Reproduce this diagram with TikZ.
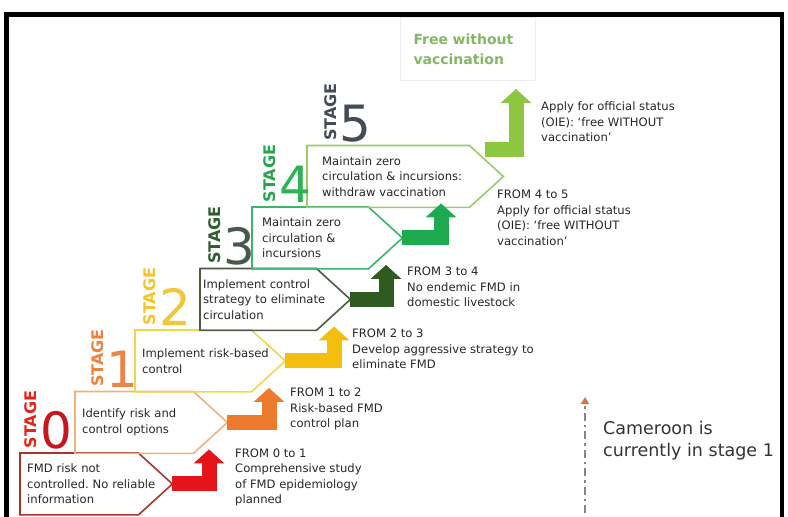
\documentclass[tikz,border=0pt]{standalone}
\usepackage{fontspec}
\setmainfont{DejaVu Sans}
\usetikzlibrary{arrows.meta,calc}
\frenchspacing

\definecolor{edge0}{HTML}{A8342C}
\definecolor{edge1}{HTML}{F2B27A}
\definecolor{edge2}{HTML}{F2D64A}
\definecolor{edge3}{HTML}{4A5A46}
\definecolor{edge4}{HTML}{3CB46C}
\definecolor{edge5}{HTML}{9CCB6A}
\definecolor{move0}{HTML}{E3151B}
\definecolor{move1}{HTML}{EE7B2D}
\definecolor{move2}{HTML}{F4BE0E}
\definecolor{move3}{HTML}{2F5A20}
\definecolor{move4}{HTML}{1EAA4E}
\definecolor{move5}{HTML}{8DC641}
\definecolor{tag0}{HTML}{E2261B}
\definecolor{tag1}{HTML}{EE8238}
\definecolor{tag2}{HTML}{F5C428}
\definecolor{tag3}{HTML}{2F5E2D}
\definecolor{tag4}{HTML}{25A64C}
\definecolor{tag5}{HTML}{434C56}
\definecolor{digit0}{HTML}{C8161E}
\definecolor{digit1}{HTML}{EB8447}
\definecolor{digit2}{HTML}{F3C63A}
\definecolor{digit3}{HTML}{46594A}
\definecolor{digit4}{HTML}{2FB253}
\definecolor{digit5}{HTML}{434C56}
\definecolor{freegreen}{HTML}{86B665}
\definecolor{markgray}{HTML}{8A8480}
\definecolor{markorange}{HTML}{C87840}

\tikzset{
	stagebox/.style={rectangle,inner sep=0pt,minimum height=61.5pt,anchor=north west,align=left,text=black!85,font=\fontsize{11.6}{15.5}\selectfont},
	stageedge/.style={line width=1.6pt,line join=miter},
	flow/.style={line width=15pt,-{Triangle[length=14pt,width=30pt]}},
	stagetag/.style={rotate=90,anchor=west,inner sep=0pt,font=\bfseries\fontsize{16}{16}\selectfont},
	stagenum/.style={anchor=base,inner sep=0pt,font=\fontsize{50}{50}\selectfont},
	note/.style={anchor=west,inner sep=0pt,align=left,text=black!85,font=\fontsize{11.6}{15.5}\selectfont},
	freebox/.style={draw=gray!25,densely dotted,line width=1pt,anchor=north west,minimum width=135pt,minimum height=63pt,text width=109pt,align=left,inner sep=0pt,text=freegreen,font=\bfseries\fontsize{14}{20}\selectfont},
	stagemark/.style={line width=2.5pt,markgray,dash pattern=on 8pt off 4pt on 2.5pt off 4pt,-{Triangle[length=7pt,width=8pt,color=markorange]}},
	frame/.style={line width=4.5pt,black}
}

\begin{document}
\begin{tikzpicture}[x=1pt,y=-1pt]
	\useasboundingbox (0,0) rectangle (788,517);
	\draw [frame] (6.5,521) |- (782,14.5) -- (782,521);

	\foreach \n/\bx/\by/\bw/\tw/\txt in {
		0/20/453/152/138/{FMD risk not\\controlled. No reliable\\information},
		1/75/391.5/152/138/{Identify risk and\\control options},
		2/135/330/150/136/{Implement risk-based\\control},
		3/200/268.5/150/144/{Implement control\\strategy to eliminate\\circulation},
		4/252/207/150/130/{Maintain zero\\circulation \&\\incursions},
		5/307/145.5/196/166/{Maintain zero\\circulation \& incursions:\\withdraw vaccination}}
	{
		\node [stagebox,minimum width=\bw pt,text width=\tw pt] (b\n) at (\bx,\by) {\txt};
		\draw [stageedge,edge\n] (b\n.north west) -- ($(b\n.north east)+(-34,0)$) -- (b\n.east)
			-- ($(b\n.south east)+(-34,0)$) -- (b\n.south west) -- cycle;
	}

	\foreach \n/\sx/\sy in {0/31/448.5,1/97.5/387,2/150/325.5,3/214.5/264,4/270/202.5,5/330.5/141}
	{
		\node [stagetag,tag\n] (tag\n) at (\sx,\sy) {STAGE};
		\node [stagenum,digit\n] (num\n) at (\sx+25,\sy) {\n};
	}

	\node [freebox] (free) at (400,17) {Free without\\vaccination};

	\foreach \n/\m in {0/1,1/2,2/3,3/4,4/5}
		\draw [flow,move\n] (b\n.east) -| ($(b\m.south west)+(134,-4)$);
	\draw [flow,move5] ($(b5.north east)+(-18,4)$) -| ($(free.south east)+(-20,8)$);

	\node [note] (d01) at (235,477.5) {FROM 0 to 1\\Comprehensive study\\of FMD epidemiology\\planned};
	\node [note] (d12) at (290,409) {FROM 1 to 2\\Risk-based FMD\\control plan};
	\node [note] (d23) at (352,349) {FROM 2 to 3\\Develop aggressive strategy to\\eliminate FMD};
	\node [note] (d34) at (407,287) {FROM 3 to 4\\No endemic FMD in\\domestic livestock};
	\node [note] (d45) at (497,218) {FROM 4 to 5\\Apply for official status\\(OIE): `free WITHOUT\\vaccination'};
	\node [note] (d5f) at (541,122) {Apply for official status\\(OIE): `free WITHOUT\\vaccination'};

	\node [note,text=black!80,font=\fontsize{17.5}{22}\selectfont] (cam) at (603,441) {Cameroon is\\currently in stage 1};
	\coordinate (markbot) at (585,513);
	\coordinate (marktop) at (585,397);
	\draw [stagemark] (markbot) -- (marktop);
\end{tikzpicture}
\end{document}
